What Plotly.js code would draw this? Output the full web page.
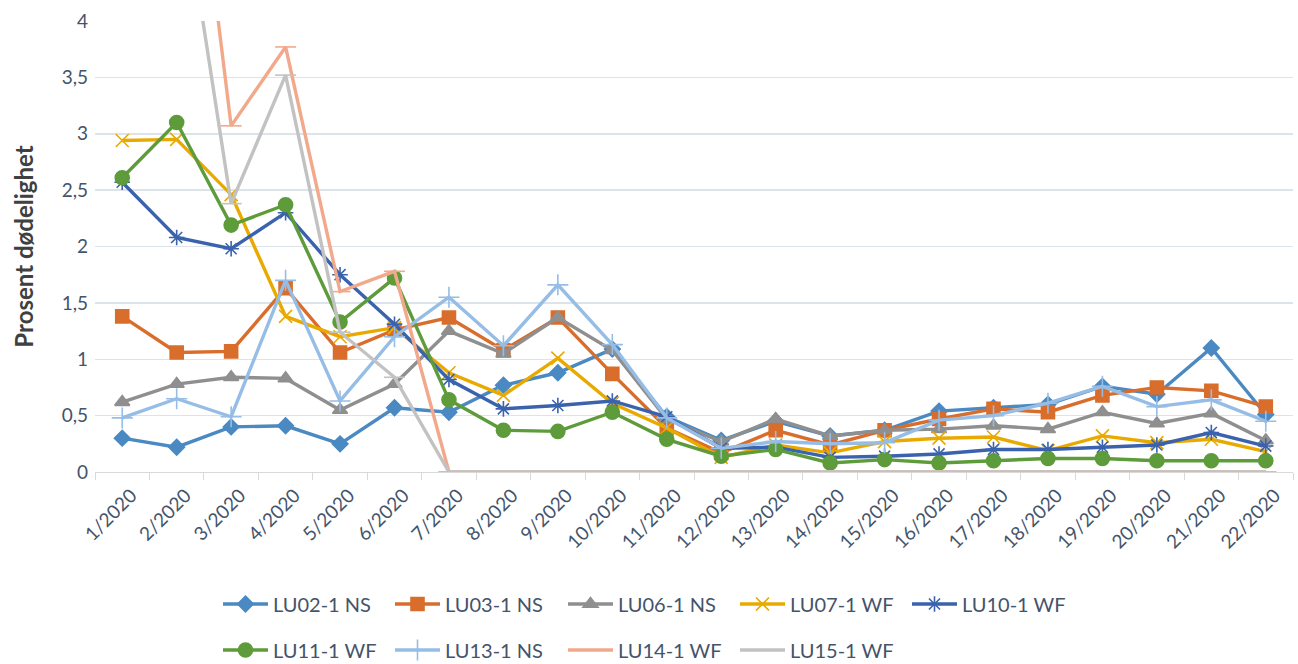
<!DOCTYPE html>
<html>
<head>
<meta charset="utf-8">
<script src="https://cdn.plot.ly/plotly-3.0.1.min.js"></script>
<style>html,body{margin:0;padding:0;background:#fff;}#chart{width:1298px;height:664px;}</style>
</head>
<body>
<div id="chart"></div>
<script>
const weeks = ["1/2020","2/2020","3/2020","4/2020","5/2020","6/2020","7/2020","8/2020","9/2020","10/2020","11/2020","12/2020","13/2020","14/2020","15/2020","16/2020","17/2020","18/2020","19/2020","20/2020","21/2020","22/2020"];

const lu02 = [0.30,0.22,0.40,0.41,0.25,0.57,0.53,0.77,0.88,1.09,0.49,0.28,0.45,0.32,0.37,0.54,0.57,0.60,0.76,0.69,1.10,0.51];
const lu03 = [1.38,1.06,1.07,1.63,1.06,1.26,1.37,1.08,1.37,0.87,0.39,0.17,0.37,0.24,0.37,0.47,0.56,0.53,0.68,0.75,0.72,0.58];
const lu06 = [0.62,0.78,0.84,0.83,0.55,0.78,1.25,1.05,1.37,1.08,0.47,0.27,0.47,0.32,0.37,0.38,0.41,0.38,0.53,0.43,0.52,0.28];
const lu07 = [2.94,2.95,2.46,1.38,1.20,1.28,0.88,0.68,1.01,0.61,0.39,0.13,0.24,0.17,0.27,0.30,0.31,0.19,0.32,0.26,0.29,0.18];
const lu10 = [2.57,2.08,1.98,2.30,1.75,1.31,0.82,0.56,0.59,0.63,0.49,0.21,0.22,0.13,0.14,0.16,0.20,0.20,0.22,0.24,0.35,0.23];
const lu11 = [2.61,3.10,2.19,2.37,1.33,1.72,0.64,0.37,0.36,0.53,0.29,0.14,0.20,0.08,0.11,0.08,0.10,0.12,0.12,0.10,0.10,0.10];
const lu13 = [0.48,0.65,0.49,1.70,0.63,1.20,1.55,1.12,1.66,1.13,0.48,0.21,0.27,0.25,0.26,0.46,0.50,0.61,0.76,0.58,0.64,0.45];
const lu14 = [5.5,7.0,3.07,3.77,1.60,1.78,0,0,0,0,0,0,0,0,0,0,0,0,0,0,0,0];
const lu15 = [4.8,5.5,2.38,3.52,1.24,0.84,0,0,0,0,0,0,0,0,0,0,0,0,0,0,0,0];

const names = ["LU02-1 NS","LU03-1 NS","LU06-1 NS","LU07-1 WF","LU10-1 WF","LU11-1 WF","LU13-1 NS","LU14-1 WF","LU15-1 WF"];
const colors = ["#4a89c2","#d96d2b","#8f8f8f","#e8aa00","#3a62ad","#5e9b3a","#96bde6","#f2a98b","#c2c2c2"];

const series = [lu02,lu03,lu06,lu07,lu10,lu11,lu13,lu14,lu15];
const markers = [
  {symbol:"diamond", size:12},
  {symbol:"square", size:13},
  {symbol:"triangle-up", size:13},
  {symbol:"x-thin-open", size:13},
  {symbol:"asterisk-open", size:13},
  {symbol:"circle", size:14},
  {symbol:"cross-thin-open", size:15},
  {symbol:"line-ew-open", size:15},
  {symbol:"line-ew-open", size:15}
];

const W = 1298, ML = 95, MR = 5, PW = W - ML - MR;
const PT = 21, PB = 192, PH = 664 - PT - PB;
// legend item left edges (px) and row centres (px)
const legX = [218,390,563,735,907,218,390,563,735];
const legY = [604,604,604,604,604,650,650,650,650];

const legendFont = {family:"Lato, 'Open Sans', sans-serif", size:20, color:"#44546a"};

const traces = series.map((s,i)=>({
  type:"scatter", mode:"lines+markers",
  x: weeks, y: s, name: names[i],
  line:{color:colors[i], width:3.4},
  marker:{symbol:markers[i].symbol, size:markers[i].size, color:colors[i], line:{color:colors[i], width:1.6}},
  legend: i === 0 ? "legend" : "legend" + (i+1)
}));

const layout = {
  width:W, height:664,
  margin:{l:ML, r:MR, t:PT, b:PB, autoexpand:false},
  paper_bgcolor:"#fff", plot_bgcolor:"#fff",
  separators:", ",
  font:{family:"Lato, 'Open Sans', sans-serif", size:19, color:"#44546a"},
  xaxis:{
    type:"category", range:[-0.5, weeks.length - 0.5],
    tickangle:-45, tickson:"boundaries",
    ticks:"outside", ticklen:7, tickcolor:"#d9d9d9",
    showline:true, linecolor:"#d9d9d9", linewidth:1,
    showgrid:false, zeroline:false,
    tickfont:{size:19, color:"#44546a"},
    ticklabelshift:9, ticklabelstandoff:4,
    automargin:false
  },
  yaxis:{
    range:[0,4], dtick:0.5, tickformat:".1~f",
    showgrid:true, gridcolor:"#dde3ea", gridwidth:1.5,
    zeroline:false, showline:false, ticks:"",
    ticklabelstandoff:6,
    tickfont:{size:19, color:"#44546a"},
    automargin:false,
    title:{text:"<b>Prosent dødelighet</b>", font:{size:24, color:"#404040"}, standoff:21}
  },
  showlegend:true
};
for (let i=0;i<names.length;i++){
  const key = i === 0 ? "legend" : "legend" + (i+1);
  layout[key] = {
    orientation:"h", itemwidth:45,
    x:(legX[i]-ML)/PW, xanchor:"left",
    y:(664-PB-legY[i])/PH, yanchor:"middle",
    font:legendFont, bgcolor:"rgba(0,0,0,0)"
  };
}
Plotly.newPlot("chart", traces, layout, {displayModeBar:false, staticPlot:true});
</script>
</body>
</html>
